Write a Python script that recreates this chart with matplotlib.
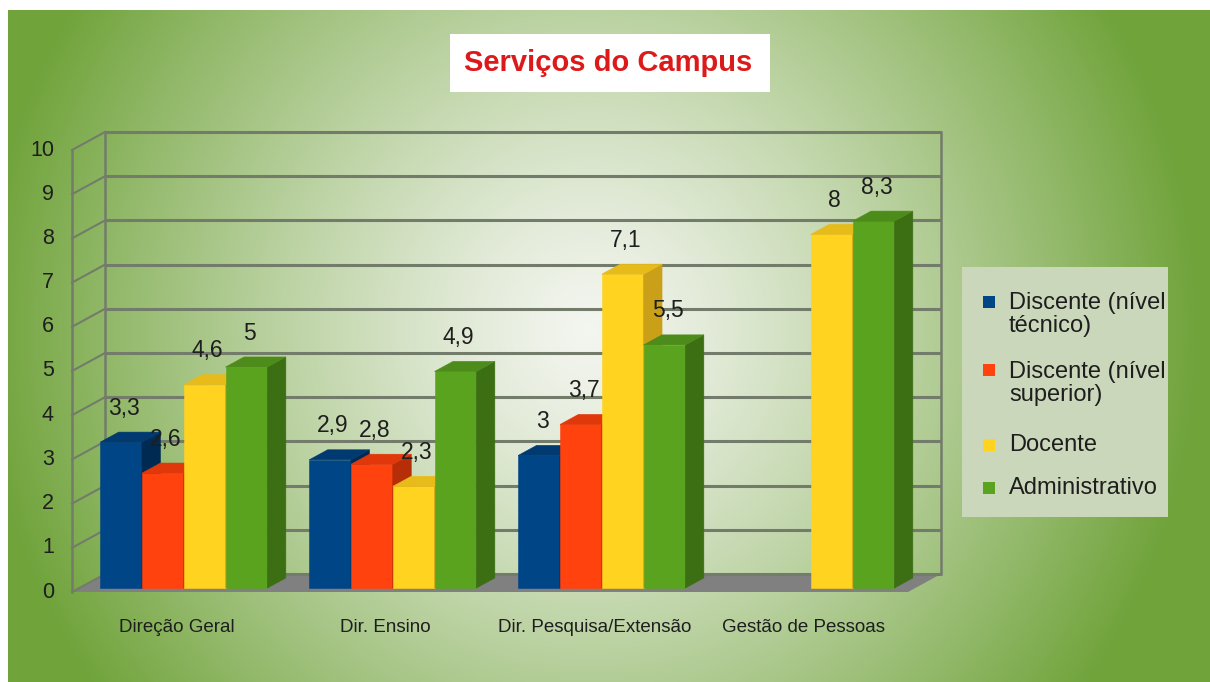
import numpy as np
import matplotlib
matplotlib.use("Agg")
import matplotlib.pyplot as plt
from matplotlib.patches import Polygon, Rectangle

plt.rcParams["font.family"] = ["Liberation Sans", "DejaVu Sans"]

# ---- data ----
categories = ["Direção Geral", "Dir. Ensino", "Dir. Pesquisa/Extensão", "Gestão de Pessoas"]
series_names = ["Discente (nível\ntécnico)", "Discente (nível\nsuperior)", "Docente", "Administrativo"]
discente_tecnico = [3.3, 2.9, 3.0, np.nan]
discente_superior = [2.6, 2.8, 3.7, np.nan]
docente = [4.6, 2.3, 7.1, 8.0]
administrativo = [5.0, 4.9, 5.5, 8.3]
y_ticks = list(range(0, 11))
title = "Serviços do Campus"

series = [discente_tecnico, discente_superior, docente, administrativo]

# ---- styling ----
front_colors = ["#004586", "#ff420e", "#ffd320", "#5aa31f"]
top_colors = ["#003a70", "#e0380a", "#e6bb1a", "#4d8c1a"]
side_colors = ["#002a52", "#b52e08", "#c9a018", "#3c6e13"]
grid_color = "#737c6b"
floor_color = "#808080"
text_color = "#1e1e1e"

W, H = 1210, 682
fig = plt.figure(figsize=(W / 100, H / 100), dpi=100)
fig.patch.set_facecolor("white")

# ---- gradient background ----
bg = fig.add_axes([8 / W, 0, 1 - 8 / W, (H - 10) / H])
xs = np.linspace(8, W, 700)
ys = np.linspace(10, H, 400)
X, Y = np.meshgrid(xs, ys)
t = np.sqrt(((X - 590) / 610) ** 2 + ((Y - 330) / 620) ** 2)
t = np.clip(t, 0, 1) ** 1.25
c0 = np.array([0.955, 0.962, 0.94])
c1 = np.array([0.44, 0.64, 0.23])
img = c0 + (c1 - c0) * t[..., None]
bg.imshow(img, extent=[8, W, H, 10], aspect="auto", interpolation="bilinear")
bg.set_xlim(8, W)
bg.set_ylim(H, 10)
bg.axis("off")

# ---- main 3D-style axes ----
ax = fig.add_axes([0, 0, 1, 1])
ax.patch.set_alpha(0)
PX_X, PX_Y = 209.0, 44.2          # pixels per category / per value unit
X0, Y0 = 176.5, 592.0             # front-plane origin
ax.set_xlim(-X0 / PX_X, (W - X0) / PX_X)
ax.set_ylim((Y0 - H) / PX_Y, Y0 / PX_Y)
ax.axis("off")

DX = 33 / PX_X                    # depth shift (x) for full depth
DY = 18 / PX_Y                    # depth shift (y) for full depth
xl, xr = -0.5, len(categories) - 0.5
ymax = y_ticks[-1]


def P(x, v, d):
    return (x + d * DX, v + d * DY)


# floor
ax.add_patch(Polygon([P(xl, 0, 0), P(xr, 0, 0), P(xr, 0, 1), P(xl, 0, 1)],
                     closed=True, facecolor=floor_color, edgecolor="none", zorder=1))

# back-wall grid and side-wall grid
for v in y_ticks:
    (a, b), (c, d) = P(xl, v, 1), P(xr, v, 1)
    ax.plot([a, c], [b, d], color=grid_color, lw=2.2, zorder=1.5, solid_capstyle="butt")
    (a, b), (c, d) = P(xl, v, 0), P(xl, v, 1)
    ax.plot([a, c], [b, d], color=grid_color, lw=1.5, zorder=1.5)
for (xx, dd) in [(xl, 0), (xl, 1), (xr, 1)]:
    (a, b), (c, d) = P(xx, 0, dd), P(xx, ymax, dd)
    ax.plot([a, c], [b, d], color=grid_color, lw=1.8, zorder=1.5)

# bars
n = len(series)
bw = 0.8 / n
d0, d1 = 0.22, 0.78
for k, vals in enumerate(series):
    vals = np.asarray(vals, dtype=float)
    idx = np.arange(len(categories))
    ok = ~np.isnan(vals)
    x0 = idx - 0.4 + bw * k
    z = 3 + k
    ax.bar(x0[ok] + d0 * DX, vals[ok], width=bw, bottom=d0 * DY, align="edge",
           color=front_colors[k], edgecolor=front_colors[k], linewidth=0.4, zorder=z)
    for xi, v in zip(x0[ok], vals[ok]):
        x1 = xi + bw
        side = [P(x1, 0, d0), P(x1, 0, d1), P(x1, v, d1), P(x1, v, d0)]
        top = [P(xi, v, d0), P(x1, v, d0), P(x1, v, d1), P(xi, v, d1)]
        ax.add_patch(Polygon(side, closed=True, facecolor=side_colors[k],
                             edgecolor=side_colors[k], lw=0.4, zorder=z))
        ax.add_patch(Polygon(top, closed=True, facecolor=top_colors[k],
                             edgecolor=top_colors[k], lw=0.4, zorder=z))

# value labels
for k, vals in enumerate(series):
    for i, v in enumerate(vals):
        if np.isnan(v):
            continue
        xc = i - 0.4 + bw * k + bw / 2
        ax.annotate(f"{v:g}".replace(".", ","), xy=P(xc, v, d0), xytext=(2.2, 24.5),
                    textcoords="offset points", ha="center", va="center",
                    fontsize=16.5, color=text_color, zorder=20)

# y tick labels on the front-left edge
for v in y_ticks:
    ax.text(xl - 18 / PX_X, v, str(v), ha="right", va="center",
            fontsize=15.5, color=text_color, zorder=20)

# category labels
for i, cat in enumerate(categories):
    ax.text(i, -35 / PX_Y, cat, ha="center", va="center",
            fontsize=13.5, color=text_color, zorder=20)

# title with white box
fig.add_artist(Rectangle((450 / W, 1 - 92 / H), 320 / W, 58 / H,
                         transform=fig.transFigure, facecolor="white",
                         edgecolor="none", zorder=5))
fig.text(608 / W, 1 - 63 / H, title, ha="center", va="center", fontsize=21,
         fontweight="bold", color="#dc1a1a", zorder=6)

# legend
fig.add_artist(Rectangle((962 / W, 1 - 517 / H), 206 / W, 250 / H,
                         transform=fig.transFigure, facecolor="#cad7ba",
                         edgecolor="none", zorder=5))
entry_centers = [314.5, 383.5, 445, 488]
for k, (name, yc) in enumerate(zip(series_names, entry_centers)):
    two_lines = "\n" in name
    sq_y = yc - 13 if two_lines else yc
    fig.add_artist(Rectangle((983 / W, 1 - (sq_y + 6) / H), 12 / W, 12 / H,
                             transform=fig.transFigure, facecolor=front_colors[k],
                             edgecolor="none", zorder=6))
    fig.text(1009 / W, 1 - yc / H, name, ha="left", va="center", fontsize=17,
             color=text_color, linespacing=1.1, zorder=6)

fig.savefig("out.png", dpi=100)
